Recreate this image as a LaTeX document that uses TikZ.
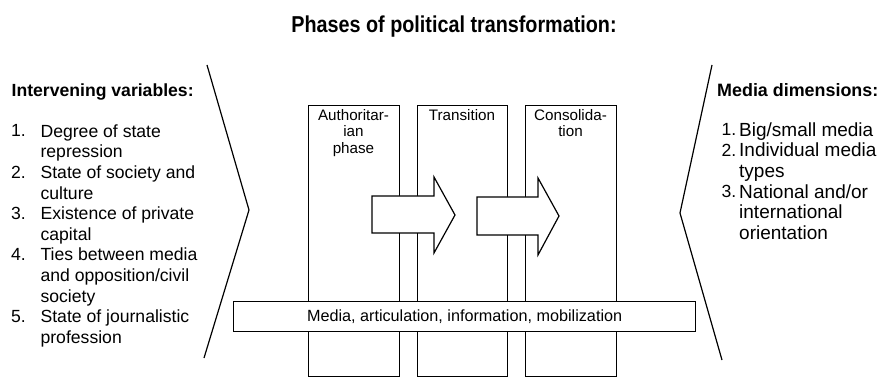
\documentclass[tikz,border=0pt]{standalone}
\usepackage{fontspec}
\setmainfont{Liberation Sans}
\newfontfamily\titlefont[FakeStretch=0.86]{Liberation Sans}
\tikzset{
  lineset/.style={line width=1.2pt, draw=black},
  phasebox/.style={lineset, rectangle, fill=white, inner sep=0pt, minimum width=91pt, minimum height=271pt, anchor=north west},
  bandbox/.style={lineset, rectangle, fill=white, inner sep=0pt, minimum width=462pt, minimum height=30pt, anchor=north west, font=\fontsize{16.2}{19}\selectfont},
  bigarrow/.style={lineset, fill=white, line join=miter},
  phaselabel/.style={inner sep=0pt, anchor=north, align=center, font=\fontsize{15.2}{16.5}\selectfont},
  header/.style={inner sep=0pt, anchor=base west, font=\bfseries\fontsize{17.6}{20.6}\selectfont},
  numL/.style={inner sep=0pt, anchor=base west, font=\fontsize{17.6}{20.6}\selectfont},
  itemL/.style={inner sep=0pt, anchor=north west, align=left, font=\fontsize{17.6}{20.6}\selectfont},
  numR/.style={inner sep=0pt, anchor=base west, font=\fontsize{17.6}{20.6}\selectfont},
  itemR/.style={inner sep=0pt, anchor=north west, align=left, font=\fontsize{19}{20.6}\selectfont},
}
\begin{document}
\begin{tikzpicture}[x=1pt,y=-1pt]
\useasboundingbox[fill=white] (0,0) rectangle (879,377);

% title
\node[inner sep=0pt, anchor=base, font=\titlefont\bfseries\fontsize{23}{26}\selectfont] (title) at (454,32.3) {Phases of political transformation:};

% chevrons
\coordinate (lt) at (207,65);
\coordinate (la) at (249,210);
\coordinate (lb) at (204,358);
\draw[lineset] (lt) -- (la) -- (lb);
\coordinate (rt) at (712,65);
\coordinate (ra) at (680,213);
\coordinate (rb) at (722,360);
\draw[lineset] (rt) -- (ra) -- (rb);

% phase boxes
\node[phasebox] (p1) at (308,105) {};
\node[phasebox, minimum width=90pt] (p2) at (417,105) {};
\node[phasebox] (p3) at (525,105) {};

\node[phaselabel] (l1) at (353.5,108.45) {\strut Authoritar-\\ian\\phase};
\node[phaselabel] (l2) at (462,108.45) {\strut Transition};
\node[phaselabel] (l3) at (570.5,108.45) {\strut Consolida-\\tion};

% block arrows
\draw[bigarrow] (372,196) -- (434,196) -- (434,177) -- (455,215) -- (434,253) -- (434,233) -- (372,233) -- cycle;
\draw[bigarrow] (477,197) -- (538,197) -- (538,178) -- (559,216) -- (538,255) -- (538,235) -- (477,235) -- cycle;

% media band
\node[bandbox] (band) at (233,301) {Media, articulation, information, mobilization};

% left column
\node[header] (hl) at (11.5,97) {Intervening variables:};
\node[numL] (n1) at (11,137) {1.};
\node[itemL] (i1) at (40.4,122.6) {\strut Degree of state\\repression};
\node[numL] (n2) at (11,178.2) {2.};
\node[itemL] (i2) at (40.4,163.8) {\strut State of society and\\culture};
\node[numL] (n3) at (11,219.4) {3.};
\node[itemL] (i3) at (40.4,205) {\strut Existence of private\\capital};
\node[numL] (n4) at (11,260.6) {4.};
\node[itemL] (i4) at (40.4,246.2) {\strut Ties between media\\and opposition/civil\\society};
\node[numL] (n5) at (11,322.4) {5.};
\node[itemL] (i5) at (40.4,308) {\strut State of journalistic\\profession};

% right column
\node[header, font=\bfseries\fontsize{17.9}{20.6}\selectfont] (hr) at (717,97) {Media dimensions:};
\node[numR] (m1) at (721.5,136) {1.};
\node[itemR] (j1) at (739,121.6) {\strut Big/small media};
\node[numR] (m2) at (721.5,156.6) {2.};
\node[itemR] (j2) at (739,142.2) {\strut Individual media\\types};
\node[numR] (m3) at (721.5,197.8) {3.};
\node[itemR] (j3) at (739,183.4) {\strut National and/or\\international\\orientation};
\end{tikzpicture}
\end{document}
